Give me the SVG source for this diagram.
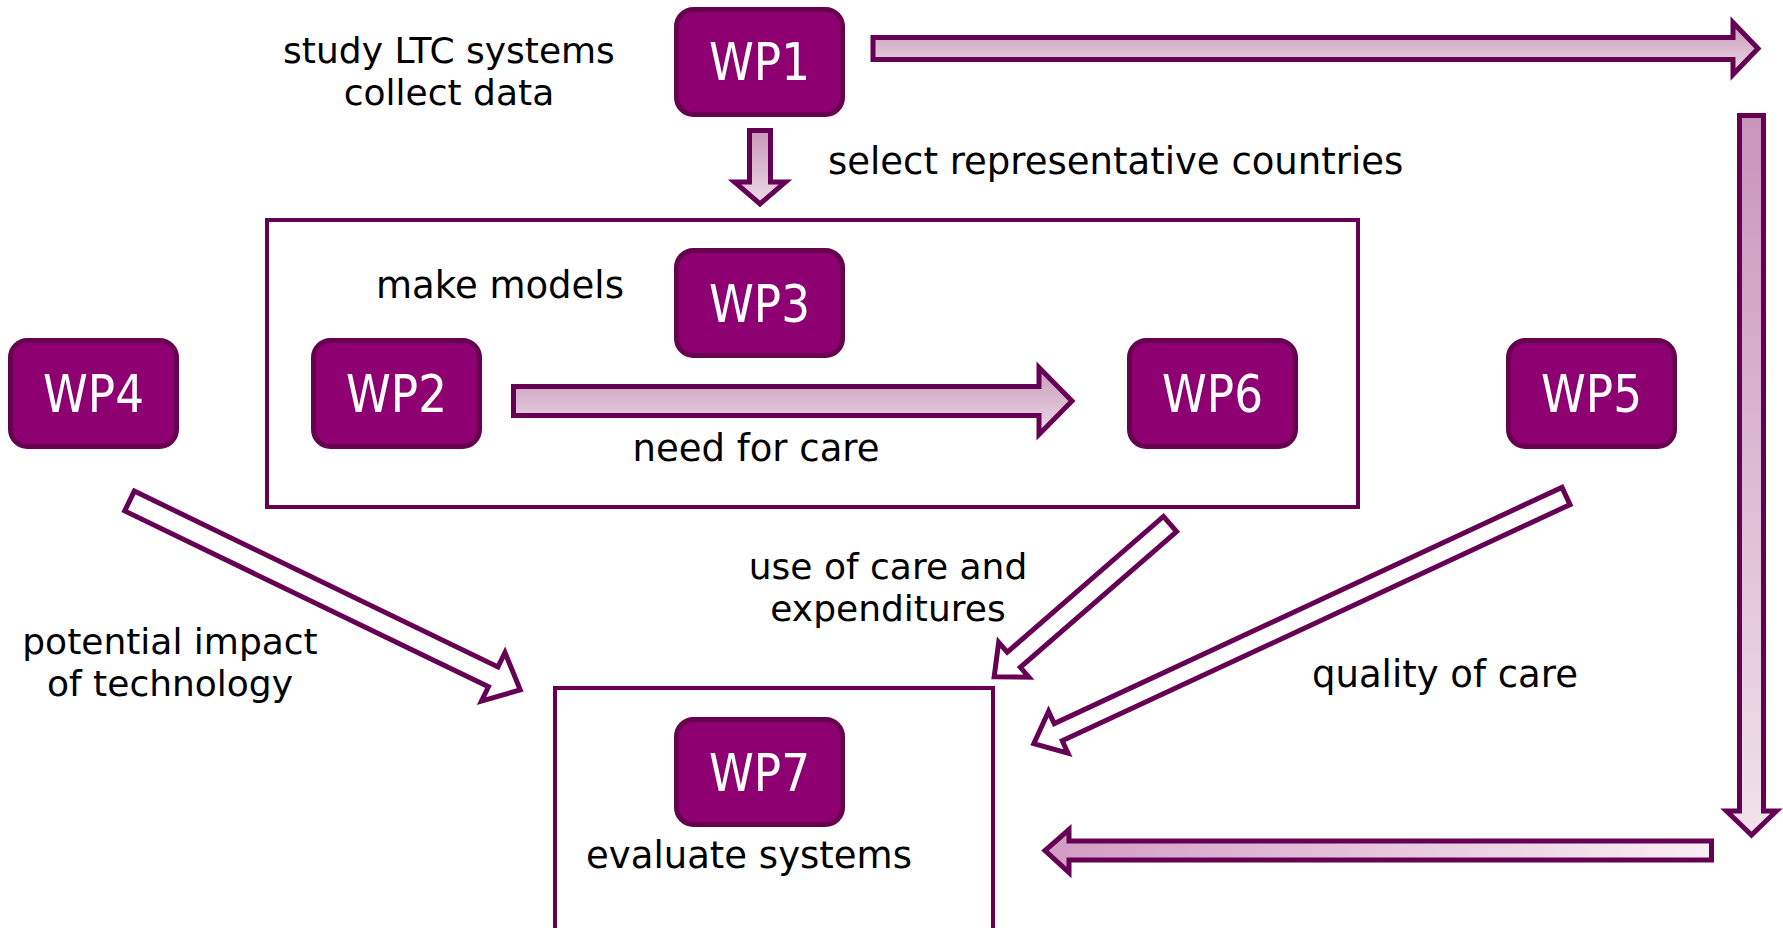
<svg xmlns="http://www.w3.org/2000/svg" width="1783" height="928" viewBox="0 0 1783 928">
<defs>
<linearGradient id="gV" x1="0" y1="0" x2="0" y2="1">
<stop offset="0" stop-color="#c998ba"/>
<stop offset="1" stop-color="#ecdbe6"/>
</linearGradient>
<linearGradient id="gVlong" x1="0" y1="0" x2="0" y2="1">
<stop offset="0" stop-color="#c994ba"/>
<stop offset="1" stop-color="#f0e2eb"/>
</linearGradient>
<linearGradient id="gH" x1="0" y1="0" x2="1" y2="0">
<stop offset="0" stop-color="#d29cc4"/>
<stop offset="1" stop-color="#f9eef5"/>
</linearGradient>
<style>
.box{fill:#8e0071;stroke:#66004f;stroke-width:5}
.wp{font-family:"DejaVu Sans","Liberation Sans",sans-serif;font-size:51px;fill:#ffffff;text-anchor:middle}
.lbl{font-family:"DejaVu Sans","Liberation Sans",sans-serif;font-size:37px;fill:#000000}
.two{font-size:36px}
.mid{text-anchor:middle}
.frame{fill:none;stroke:#660055;stroke-width:4}
.ga{stroke:#660055;stroke-width:5;stroke-linejoin:miter}
.wa{fill:#ffffff;stroke:#660055;stroke-width:5;stroke-linejoin:miter}
</style>
</defs>
<rect width="1783" height="928" fill="#ffffff"/>

<g id="frames">
<rect class="frame" x="267" y="220" width="1091" height="287"/>
<rect class="frame" x="555" y="688" width="438" height="270"/>
</g>

<g id="connectors">
<polygon class="ga" fill="url(#gV)" points="873,37.5 1733,37.5 1733,22.5 1758,48.5 1733,74.5 1733,59.5 873,59.5"/>
<polygon class="ga" fill="url(#gVlong)" points="1739.5,115.5 1763.5,115.5 1763.5,811 1776.5,811 1751.5,835 1726.5,811 1739.5,811"/>
<polygon class="ga" fill="url(#gH)" points="1711.5,841 1069,841 1069,829.5 1045,850.5 1069,872.5 1069,860 1711.5,860"/>
<polygon class="ga" fill="url(#gV)" points="749.5,130.5 770.5,130.5 770.5,182 785.5,182 760,204 734.5,182 749.5,182"/>
<polygon class="ga" fill="url(#gV)" points="513.5,386.5 1039,386.5 1039,367.5 1072,401 1039,434.5 1039,415.5 513.5,415.5"/>
<polygon class="wa" transform="translate(129.5,501) rotate(25.8)" points="0,-11 404,-11 404,-27 434,0 404,27 404,11 0,11"/>
<polygon class="wa" transform="translate(1170,524) rotate(139)" points="0,-10 207,-10 207,-23 233,0 207,23 207,10 0,10"/>
<polygon class="wa" transform="translate(1566,496) rotate(155.05)" points="0,-9.5 560,-9.5 560,-23 587,0 560,23 560,9.5 0,9.5"/>
</g>

<g id="labels">
<text class="lbl two mid" x="449" y="63">study LTC systems<tspan x="449" dy="42">collect data</tspan></text>
<text class="lbl" x="828" y="174">select representative countries</text>
<text class="lbl mid" x="500" y="298">make models</text>
<text class="lbl mid" x="756" y="461">need for care</text>
<text class="lbl two mid" x="888" y="579">use of care and<tspan x="888" dy="42">expenditures</tspan></text>
<text class="lbl two mid" x="170" y="654">potential impact<tspan x="170" dy="42">of technology</tspan></text>
<text class="lbl" x="1312" y="687">quality of care</text>
<text class="lbl mid" x="749" y="868">evaluate systems</text>
</g>

<g id="WP1"><rect class="box" x="676.5" y="9.5" width="166" height="105" rx="17"/><text class="wp" x="759.5" y="80" textLength="101" lengthAdjust="spacingAndGlyphs">WP1</text></g>
<g id="WP3"><rect class="box" x="676.5" y="250.5" width="166" height="105" rx="17"/><text class="wp" x="759.5" y="321.5" textLength="101" lengthAdjust="spacingAndGlyphs">WP3</text></g>
<g id="WP4"><rect class="box" x="10.5" y="340.5" width="166" height="106" rx="17"/><text class="wp" x="93.5" y="412" textLength="101" lengthAdjust="spacingAndGlyphs">WP4</text></g>
<g id="WP2"><rect class="box" x="313.5" y="340.5" width="166" height="106" rx="17"/><text class="wp" x="396.5" y="412" textLength="101" lengthAdjust="spacingAndGlyphs">WP2</text></g>
<g id="WP6"><rect class="box" x="1129.5" y="340.5" width="166" height="106" rx="17"/><text class="wp" x="1212.5" y="412" textLength="101" lengthAdjust="spacingAndGlyphs">WP6</text></g>
<g id="WP5"><rect class="box" x="1508.5" y="340.5" width="166" height="106" rx="17"/><text class="wp" x="1591.5" y="412" textLength="101" lengthAdjust="spacingAndGlyphs">WP5</text></g>
<g id="WP7"><rect class="box" x="676.5" y="719.5" width="166" height="105" rx="17"/><text class="wp" x="759.5" y="790.5" textLength="101" lengthAdjust="spacingAndGlyphs">WP7</text></g>
</svg>
